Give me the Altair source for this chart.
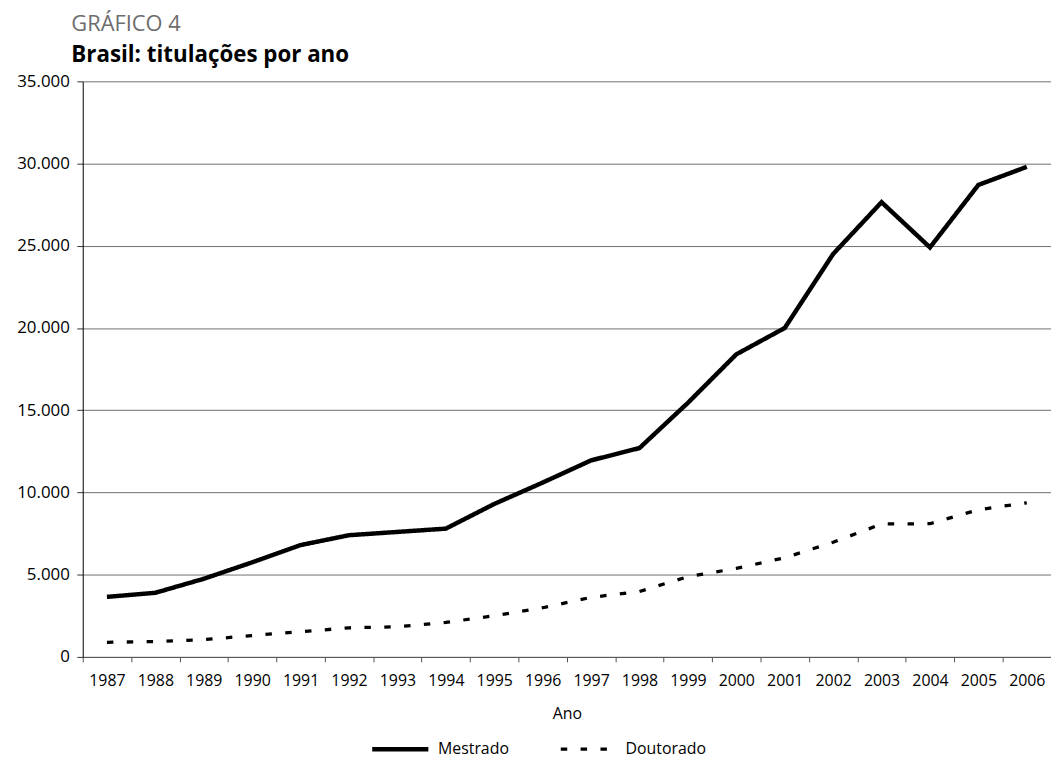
import altair as alt
import pandas as pd

anos = [str(a) for a in range(1987, 2007)]
mestrado = [3650, 3900, 4750, 5750, 6800, 7400, 7600, 7800, 9300, 10600,
            11950, 12700, 15450, 18400, 20000, 24500, 27650, 24900, 28700, 29800]
doutorado = [890, 930, 1050, 1300, 1530, 1770, 1830, 2100, 2500, 2990,
             3620, 3980, 4880, 5380, 6030, 6970, 8080, 8100, 8950, 9370]
series = ["Mestrado", "Doutorado"]
y_ticks = [0, 5000, 10000, 15000, 20000, 25000, 30000, 35000]

rows = []
for a, m, d in zip(anos, mestrado, doutorado):
    rows.append({"ano": a, "serie": "Mestrado", "valor": m})
    rows.append({"ano": a, "serie": "Doutorado", "valor": d})
df = pd.DataFrame(rows)

FONT = "Open Sans"
PLOT_H = 580

legend = alt.Legend(
    title=None, orient="none", direction="horizontal",
    legendX=306, legendY=659, padding=0,
    labelFont=FONT, labelFontSize=16, labelColor="black", labelOffset=24,
    symbolType="M-2.5,0H2.5", symbolSize=512, columnPadding=45,
    symbolStrokeColor="black",
)

chart = alt.Chart(df).mark_line(strokeCap="butt", strokeJoin="miter").encode(
    x=alt.X("ano:O", bandPosition=0.5,
            scale=alt.Scale(type="band", paddingInner=0, paddingOuter=0),
            axis=alt.Axis(title="Ano", labelAngle=0, tickBand="extent",
                          labelFont=FONT, labelFontSize=16, labelColor="black",
                          labelPadding=10.5, tickSize=5, tickColor="#555",
                          domainColor="#555", titleFont=FONT, titleFontSize=16,
                          titleFontWeight="normal", titleColor="black",
                          titlePadding=18, grid=False)),
    y=alt.Y("valor:Q",
            scale=alt.Scale(domain=[0, 35000], nice=False),
            axis=alt.Axis(title=None, values=y_ticks,
                          labelExpr="replace(format(datum.value, ','), ',', '.')",
                          labelFont=FONT, labelFontSize=17, labelColor="black",
                          labelPadding=7.5, tickSize=6, tickColor="#333",
                          domainColor="black", grid=True, gridColor="#707070",
                          gridWidth=1)),
    color=alt.Color("serie:N", scale=alt.Scale(domain=series, range=["black", "black"]),
                    legend=legend),
    strokeDash=alt.StrokeDash("serie:N", scale=alt.Scale(domain=series, range=[[1, 0], [6.5, 13.5]]),
                              legend=legend),
    strokeWidth=alt.StrokeWidth("serie:N", scale=alt.Scale(domain=series, range=[4.5, 3.3]),
                                legend=legend),
).properties(
    width=975.7, height=PLOT_H,
    title=alt.Title(
        text="GRÁFICO 4", subtitle="Brasil: titulações por ano",
        anchor="start", frame="group", dx=-11.5, offset=5,
        font=FONT, fontSize=22, fontWeight="normal", color="#6d6d6d",
        subtitleFont=FONT, subtitleFontSize=22.5, subtitleFontWeight="bold",
        subtitleColor="black", subtitlePadding=8,
    ),
    autosize=alt.AutoSizeParams(type="none"),
    padding={"left": 75.3, "top": 71, "right": 0, "bottom": 101},
).configure_view(stroke=None)

chart.save("out.html", embed_options={"renderer": "svg", "actions": False})
